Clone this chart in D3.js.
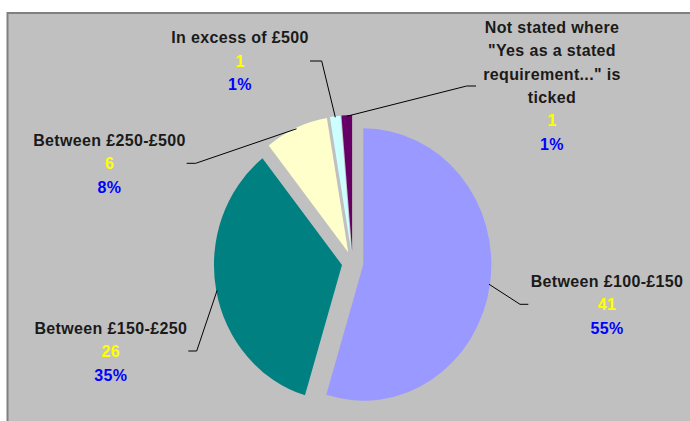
<!DOCTYPE html>
<html>
<head>
<meta charset="utf-8">
<script src="https://cdn.jsdelivr.net/npm/d3@7"></script>
<style>
  html, body { margin: 0; padding: 0; background: #ffffff; }
  svg { display: block; }
  text { font-family: "Liberation Sans", Arial, Helvetica, sans-serif; font-weight: bold; }
</style>
</head>
<body>
<svg id="chart" width="690" height="421"></svg>
<script>
// ---------- data ----------
const categories = [
  "Between £100-£150",
  "Between £150-£250",
  "Between £250-£500",
  "In excess of £500",
  "Not stated where \"Yes as a stated requirement...\" is ticked"
];
const categoryLines = [
  ["Between £100-£150"],
  ["Between £150-£250"],
  ["Between £250-£500"],
  ["In excess of £500"],
  ["Not stated where", "\"Yes as a stated", "requirement...\" is", "ticked"]
];
const values = [41, 26, 6, 1, 1];

// ---------- styles / layout ----------
const sliceColors = ["#9999FF", "#008080", "#FFFFCC", "#CCFFFF", "#660066"];
const W = 690, H = 421;
const center = [352.6, 262.8];
const radius = 136.2;
const xScale = 0.94;          // pie is drawn slightly squashed horizontally
const explode = 11.5;
const lineStep = 23.4;
// label block centres and leader elbows / ends
const labelCenters = [[607, 304.5], [110.8, 351.3], [109.5, 163.3], [240, 61], [552, 85.4]];
const leaderElbows = [[520, 304.3], [196.7, 351], [195.7, 163.3], [321.7, 61], [466.7, 86]];
const leaderEnds   = [[528.3, 304.3], [188.3, 351], [186.7, 163.3], [310, 61], [476, 86]];

const svg = d3.select("#chart");

// plot area
svg.append("rect")
  .attr("x", 7.5).attr("y", 13)
  .attr("width", 720).attr("height", 440)
  .attr("fill", "#C0C0C0")
  .attr("stroke", "#808080")
  .attr("stroke-width", 2);

const total = d3.sum(values);
const pct = d3.format(".0%");

const pie = d3.pie().sort(null).value(d => d).startAngle(0).endAngle(2 * Math.PI);
const arcs = pie(values);
const arcGen = d3.arc().innerRadius(0).outerRadius(radius);

const g = svg.append("g")
  .attr("transform", `translate(${center[0]},${center[1]}) scale(${xScale},1)`);

g.selectAll("path.slice")
  .data(arcs)
  .join("path")
  .attr("class", "slice")
  .attr("transform", d => {
    const m = (d.startAngle + d.endAngle) / 2;
    return `translate(${explode * Math.sin(m)},${-explode * Math.cos(m)})`;
  })
  .attr("d", arcGen)
  .attr("fill", (d, i) => sliceColors[i]);

// leader lines
arcs.forEach((d, i) => {
  const m = (d.startAngle + d.endAngle) / 2;
  const sx = center[0] + xScale * (explode + radius - 1) * Math.sin(m);
  const sy = center[1] - (explode + radius - 1) * Math.cos(m);
  const pts = [[sx, sy], leaderElbows[i], leaderEnds[i]];
  svg.append("path")
    .attr("d", d3.line()(pts))
    .attr("fill", "none")
    .attr("stroke", "#000000")
    .attr("stroke-width", 1);
});

// labels
arcs.forEach((d, i) => {
  const lines = categoryLines[i].map(t => ({ t, c: "#1a1a1a" }));
  lines.push({ t: String(values[i]), c: "#FFFF00" });
  lines.push({ t: pct(values[i] / total), c: "#0000FF" });
  const n = lines.length;
  const [cx, cy] = labelCenters[i];
  const y0 = cy - (n - 1) / 2 * lineStep;
  svg.selectAll(null)
    .data(lines)
    .join("text")
    .attr("x", cx)
    .attr("y", (l, k) => y0 + k * lineStep + 5.8)
    .attr("text-anchor", "middle")
    .attr("font-size", 16)
    .attr("letter-spacing", "0.35px")
    .attr("fill", l => l.c)
    .text(l => l.t);
});
</script>
</body>
</html>
